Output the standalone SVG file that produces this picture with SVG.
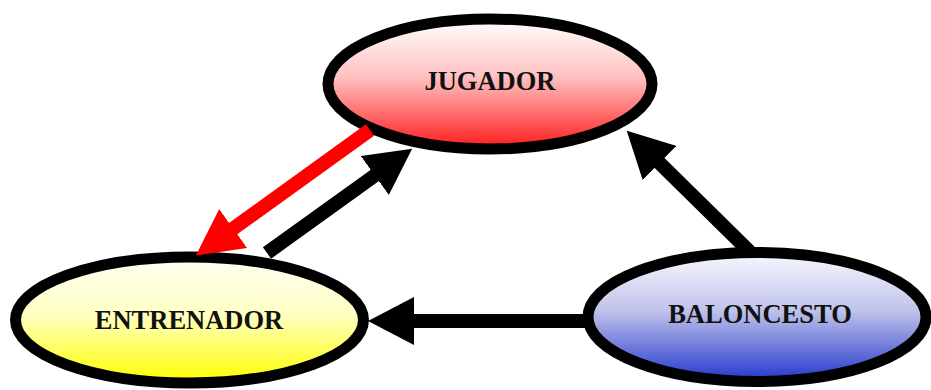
<svg xmlns="http://www.w3.org/2000/svg" width="931" height="390" viewBox="0 0 931 390">
  <style>
    .node { stroke: #000; stroke-width: 11; }
    .label { font-family: "Liberation Serif", "Times New Roman", serif; font-weight: bold; font-size: 26.5px; fill: #111; text-anchor: middle; }
    .link { fill: none; stroke: #000; stroke-width: 14; }
    .link.red { stroke: #ff0000; }
  </style>
  <defs>
    <linearGradient id="gradRed" x1="0" y1="0" x2="0" y2="1">
      <stop offset="0" stop-color="#ffffff"/>
      <stop offset="0.45" stop-color="#ffc0c0"/>
      <stop offset="1" stop-color="#ff1a1a"/>
    </linearGradient>
    <linearGradient id="gradYellow" x1="0" y1="0" x2="0" y2="1">
      <stop offset="0" stop-color="#fffff4"/>
      <stop offset="0.45" stop-color="#ffffc4"/>
      <stop offset="1" stop-color="#ffff00"/>
    </linearGradient>
    <linearGradient id="gradBlue" x1="0" y1="0" x2="0" y2="1">
      <stop offset="0" stop-color="#f8f8ff"/>
      <stop offset="0.45" stop-color="#c0c3ea"/>
      <stop offset="1" stop-color="#2236cc"/>
    </linearGradient>
    <marker id="headBlack" markerUnits="userSpaceOnUse" viewBox="0 -24 46 48" refX="1" refY="0" markerWidth="46" markerHeight="48" orient="auto">
      <path d="M0,-24 L46,0 L0,24 z" fill="#000"/>
    </marker>
    <marker id="headRed" markerUnits="userSpaceOnUse" viewBox="0 -24 46 48" refX="1" refY="0" markerWidth="46" markerHeight="48" orient="auto">
      <path d="M0,-24 L46,0 L0,24 z" fill="#ff0000"/>
    </marker>
  </defs>

  <g id="jugador">
    <ellipse class="node" cx="490" cy="84" rx="162" ry="65" fill="url(#gradRed)"/>
    <text class="label" x="490" y="90">JUGADOR</text>
  </g>

  <g id="entrenador">
    <ellipse class="node" cx="189.5" cy="320" rx="174" ry="63" fill="url(#gradYellow)"/>
    <text class="label" x="189" y="329">ENTRENADOR</text>
  </g>

  <g id="baloncesto">
    <ellipse class="node" cx="757" cy="317" rx="169" ry="64.5" fill="url(#gradBlue)"/>
    <text class="label" x="760" y="323">BALONCESTO</text>
  </g>

  <g id="connectors">
    <!-- JUGADOR to ENTRENADOR -->
    <path class="link red" d="M370,130 L232.4,229.1" marker-end="url(#headRed)"/>
    <!-- ENTRENADOR to JUGADOR -->
    <path class="link" d="M267,253 L375.6,174.9" marker-end="url(#headBlack)"/>
    <!-- BALONCESTO to JUGADOR -->
    <path class="link" d="M750,252 L658.8,162.2" marker-end="url(#headBlack)"/>
    <!-- BALONCESTO to ENTRENADOR -->
    <path class="link" d="M585,321 L413,321" stroke-width="16" marker-end="url(#headBlack)"/>
  </g>
</svg>
